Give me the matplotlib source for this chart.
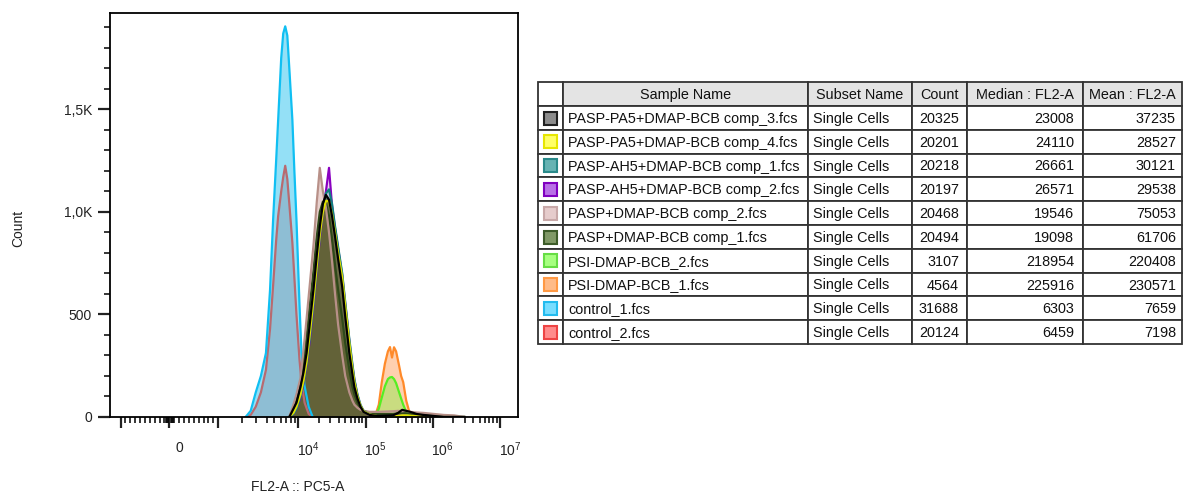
import matplotlib.pyplot as plt
import numpy as np
from matplotlib.patches import Rectangle
from matplotlib.transforms import ScaledTranslation

plt.rcParams["font.family"] = ["Liberation Sans", "DejaVu Sans"]

# ── Data ────────────────────────────────────────────────────────────────────
# bin positions are log10(FL2-A); counts per bin
ctrl_log = [3.342, 3.405, 3.468, 3.532, 3.595, 3.646, 3.684, 3.722, 3.747, 3.785, 3.810,
            3.835, 3.861, 3.886, 3.924, 3.949, 3.975, 4.015, 4.045, 4.091, 4.152, 4.212]
control_1 = [0, 30, 120, 200, 312, 620, 961, 1250, 1449, 1750, 1870,
             1905, 1860, 1700, 1449, 1200, 961, 550, 312, 150, 50, 0]
control_2 = [0, 10, 50, 120, 230, 430, 640, 860, 980, 1100, 1170,
             1225, 1160, 1040, 850, 680, 500, 280, 170, 70, 15, 0]

pasp_log = [3.886, 3.937, 3.975, 4.030, 4.076, 4.121, 4.167, 4.227, 4.273, 4.318, 4.364,
            4.409, 4.455, 4.500, 4.545, 4.591, 4.652, 4.697, 4.758, 4.803, 4.833, 4.879,
            4.924, 4.970, 5.061, 5.182, 5.409, 5.485, 5.545, 5.606, 5.667, 5.758, 5.864,
            6.015, 6.167, 6.318, 6.470]
pa5_comp3 = [0, 40, 70, 146, 220, 312, 450, 634, 790, 930, 1040,
             1083, 1060, 980, 880, 770, 634, 490, 312, 210, 146, 90,
             50, 25, 10, 5, 8, 20, 35, 30, 25, 15, 10, 5, 0, 0, 0]
pa5_comp4 = [0, 20, 50, 110, 180, 270, 400, 580, 740, 890, 1000,
             1055, 1050, 990, 900, 800, 680, 540, 360, 240, 170, 100,
             55, 28, 12, 4, 3, 5, 8, 8, 6, 4, 2, 0, 0, 0, 0]
ah5_comp1 = [0, 15, 40, 100, 170, 260, 380, 560, 730, 880, 1010,
             1090, 1110, 1040, 930, 830, 700, 560, 380, 260, 185, 110,
             60, 30, 12, 4, 2, 3, 4, 4, 3, 2, 1, 0, 0, 0, 0]
ah5_comp2 = [0, 15, 40, 95, 165, 255, 370, 550, 720, 870, 1000,
             1100, 1215, 1030, 920, 820, 690, 550, 370, 250, 180, 105,
             55, 28, 10, 3, 2, 3, 4, 4, 3, 2, 1, 0, 0, 0, 0]
pasp_comp2 = [0, 60, 110, 190, 330, 480, 640, 850, 1050, 1215, 1100,
              1020, 900, 760, 600, 450, 300, 200, 120, 80, 60, 45,
              35, 30, 25, 25, 28, 30, 28, 30, 25, 22, 20, 15, 10, 8, 0]
pasp_comp1 = [0, 40, 80, 160, 260, 390, 540, 720, 880, 1000, 1050,
              1040, 980, 870, 740, 620, 480, 360, 230, 150, 110, 70,
              45, 30, 20, 15, 15, 18, 20, 18, 16, 12, 10, 6, 3, 0, 0]

psi_log = [5.106, 5.152, 5.197, 5.242, 5.288, 5.333, 5.364, 5.394,
           5.424, 5.455, 5.500, 5.530, 5.561, 5.606, 5.652, 5.697]
psi_1 = [0, 15, 60, 170, 260, 320, 341, 290, 340, 320, 250, 200, 170, 80, 25, 0]
psi_2 = [0, 10, 40, 95, 150, 185, 193, 195, 185, 165, 120, 90, 60, 25, 5, 0]

# table contents (top to bottom)
sample_names = [
    "PASP-PA5+DMAP-BCB comp_3.fcs",
    "PASP-PA5+DMAP-BCB comp_4.fcs",
    "PASP-AH5+DMAP-BCB comp_1.fcs",
    "PASP-AH5+DMAP-BCB comp_2.fcs",
    "PASP+DMAP-BCB comp_2.fcs",
    "PASP+DMAP-BCB comp_1.fcs",
    "PSI-DMAP-BCB_2.fcs",
    "PSI-DMAP-BCB_1.fcs",
    "control_1.fcs",
    "control_2.fcs",
]
subset_names = ["Single Cells"] * 10
counts = [20325, 20201, 20218, 20197, 20468, 20494, 3107, 4564, 31688, 20124]
medians = [23008, 24110, 26661, 26571, 19546, 19098, 218954, 225916, 6303, 6459]
means = [37235, 28527, 30121, 29538, 75053, 61706, 220408, 230571, 7659, 7198]

# histogram for each table row (same order)
hist_x = [pasp_log, pasp_log, pasp_log, pasp_log, pasp_log, pasp_log,
          psi_log, psi_log, ctrl_log, ctrl_log]
hist_y = [pa5_comp3, pa5_comp4, ah5_comp1, ah5_comp2, pasp_comp2, pasp_comp1,
          psi_2, psi_1, control_1, control_2]

# styles
fill_colors = ["#2c2c2c", "#e8e800", "#1f8f8f", "#9a20c8", "#d9b3ae", "#3f5f1f",
               "#9ee65a", "#ffb27a", "#3cc8f0", "#e86a6a"]
line_colors = ["#000000", "#e0e000", "#118080", "#8a00c0", "#b89088", "#2f4a1a",
               "#55ee22", "#ff8a2a", "#10bff2", "#b86a70"]
fill_alpha = [0.62, 0.5, 0.2, 0.2, 0.6, 0.6, 0.55, 0.6, 0.55, 0.5]
swatch_fill = ["#8c8c8c", "#ffff66", "#66b3b3", "#b870e6", "#e6cccc", "#809966",
               "#a6ff80", "#ffbb88", "#77ddff", "#ff8c8c"]
swatch_edge = ["#202020", "#e6e600", "#2a8a8a", "#8000c0", "#c8a8a8", "#3d5c29",
               "#66dd44", "#ff9944", "#22bbee", "#ee4444"]

# ── Biexponential-style x scale ─────────────────────────────────────────────
LIN_HALF = 1000.0
LIN_PX = 48.0
DEC_LOG = [3, 4, 5, 6, 7, 8, 9]
DEC_POS = [48, 127, 193, 259, 325, 391, 457]


def biex_fwd(x):
    x = np.asarray(x, dtype=float)
    a = np.abs(x)
    lg = np.interp(np.log10(np.maximum(a, LIN_HALF)), DEC_LOG, DEC_POS)
    return np.sign(x) * np.where(a <= LIN_HALF, a * LIN_PX / LIN_HALF, lg)


def biex_inv(y):
    y = np.asarray(y, dtype=float)
    a = np.abs(y)
    lg = 10 ** np.interp(a, DEC_POS, DEC_LOG)
    return np.sign(y) * np.where(a <= LIN_PX, a * LIN_HALF / LIN_PX, lg)


# ── Figure ──────────────────────────────────────────────────────────────────
W, H = 1184, 495
fig = plt.figure(figsize=(W / 100, H / 100), dpi=100)
ax = fig.add_axes([110 / W, 1 - 417 / H, 408 / W, 404 / H])
ax.set_xscale("function", functions=(biex_fwd, biex_inv))

# bottom of the stack is the last table row
for i in reversed(range(len(sample_names))):
    x = 10 ** np.array(hist_x[i])
    y = np.array(hist_y[i])
    ax.fill_between(x, y, color=fill_colors[i], alpha=fill_alpha[i], lw=0)
    ax.plot(x, y, color=line_colors[i], lw=1.6)

ax.set_xlim(-1354, 1.87e7)
ax.set_ylim(0, 1970)

major_x = [-1000, 0, 1000, 1e4, 1e5, 1e6, 1e7]
major_lbl = ["", "0", "", r"$\mathregular{10^4}$", r"$\mathregular{10^5}$",
             r"$\mathregular{10^6}$", r"$\mathregular{10^7}$"]
minor_x = [s * v for s in (-1, 1) for v in (25, 50, 75)]
minor_x += [s * v for s in (-1, 1) for v in range(100, 1000, 100)]
for dec in (1e3, 1e4, 1e5, 1e6):
    minor_x += [m * dec for m in range(2, 10)]
ax.set_xticks(major_x, labels=major_lbl)
ax.set_xticks(minor_x, minor=True)
ax.tick_params(axis="x", which="major", direction="out", length=8, width=1.6,
               pad=9, labelsize=10, colors="#222222")
ax.tick_params(axis="x", which="minor", direction="out", length=4, width=1.1)
for lbl in ax.get_xticklabels():
    lbl.set_transform(lbl.get_transform() + ScaledTranslation(0.10, 0, fig.dpi_scale_trans))

ax.set_yticks([0, 500, 1000, 1500], labels=["0", "500", "1,0K", "1,5K"])
ax.set_yticks(range(100, 2000, 100), minor=True)
ax.tick_params(axis="y", which="major", direction="out", length=9, width=1.6,
               pad=4, labelsize=10, colors="#222222")
ax.tick_params(axis="y", which="minor", direction="out", length=4, width=1.1)
for sp in ax.spines.values():
    sp.set_linewidth(1.3)

fig.text(18 / W, 1 - 228 / H, "Count", rotation=90, ha="center", va="center",
         fontsize=10, color="#222222")
fig.text(298 / W, 1 - 487 / H, "FL2-A :: PC5-A", ha="center", va="center",
         fontsize=10, color="#222222")

# ── Table ───────────────────────────────────────────────────────────────────
tab = fig.add_axes([0, 0, 1, 1])
tab.set_xlim(0, W)
tab.set_ylim(H, 0)
tab.axis("off")

col_edges = [538, 563, 808, 912, 967, 1083, 1182]
headers = ["", "Sample Name", "Subset Name", "Count", "Median : FL2-A", "Mean : FL2-A"]
top, head_h, row_h = 82, 24, 23.8
edge = "#333333"
fs = 10.4

for c in range(6):
    x0, x1 = col_edges[c], col_edges[c + 1]
    tab.add_patch(Rectangle((x0, top), x1 - x0, head_h,
                            facecolor="white" if c == 0 else "#e4e4e4",
                            edgecolor=edge, lw=1.3))
    tab.text((x0 + x1) / 2, top + head_h / 2 + 1, headers[c], ha="center",
             va="center", fontsize=fs, color="#111111")

for r in range(len(sample_names)):
    y0 = top + head_h + r * row_h
    yc = y0 + row_h / 2 + 1
    for c in range(6):
        x0, x1 = col_edges[c], col_edges[c + 1]
        tab.add_patch(Rectangle((x0, y0), x1 - x0, row_h, facecolor="white",
                                edgecolor=edge, lw=1.3))
    tab.add_patch(Rectangle((544, y0 + 5.5), 13, 13, facecolor=swatch_fill[r],
                            edgecolor=swatch_edge[r], lw=1.5))
    tab.text(col_edges[1] + 5, yc, sample_names[r], ha="left", va="center",
             fontsize=fs, color="#111111")
    tab.text(col_edges[2] + 5, yc, subset_names[r], ha="left", va="center",
             fontsize=fs, color="#111111")
    tab.text(col_edges[4] - 8, yc, str(counts[r]), ha="right", va="center",
             fontsize=fs, color="#111111")
    tab.text(col_edges[5] - 9, yc, str(medians[r]), ha="right", va="center",
             fontsize=fs, color="#111111")
    tab.text(col_edges[6] - 6, yc, str(means[r]), ha="right", va="center",
             fontsize=fs, color="#111111")

fig.savefig("out.png", dpi=100)
